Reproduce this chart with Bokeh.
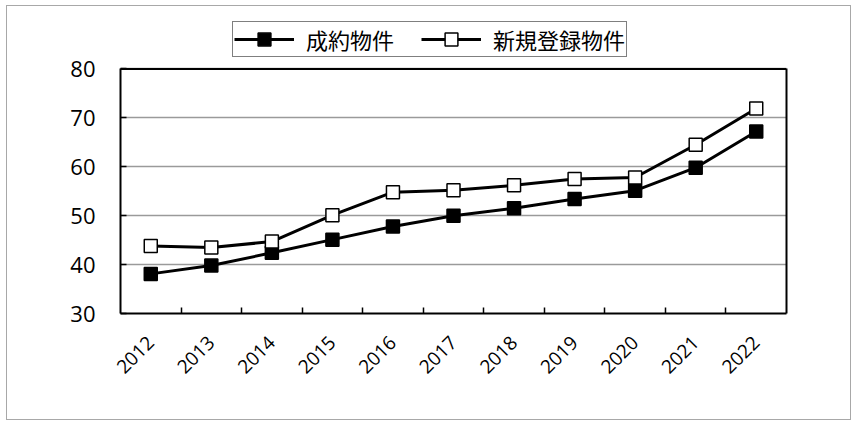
from bokeh.plotting import figure
from bokeh.models import FixedTicker, Legend, LegendItem, LinearAxis, Span
from bokeh.embed import file_html
from bokeh.resources import INLINE

years = ["2012", "2013", "2014", "2015", "2016", "2017", "2018", "2019", "2020", "2021", "2022"]
contracted = [38.1, 39.8, 42.4, 45.1, 47.8, 50.0, 51.5, 53.4, 55.1, 59.8, 67.2]
registered = [43.8, 43.5, 44.7, 50.1, 54.8, 55.2, 56.2, 57.5, 57.8, 64.5, 71.9]
series_names = ["成約物件", "新規登録物件"]
y_ticks = [30, 40, 50, 60, 70, 80]

xs = list(range(len(years)))
y_min, y_max = y_ticks[0], y_ticks[-1]

# layout (pixels): the frame extends above the plot box to leave room for the legend
frame_h = 304
box_h = 243
y_end = y_min + frame_h * (y_max - y_min) / box_h

p = figure(width=845, height=415, output_backend="svg", toolbar_location=None,
           x_range=(-0.5, len(years) - 0.5), y_range=(y_min, y_end),
           min_border_left=113, min_border_top=1, min_border_right=66, min_border_bottom=108)
p.styles = {"border": "1px solid #a8a8a8", "box-sizing": "border-box",
            "margin-left": "6px", "margin-top": "5px"}

p.outline_line_color = None
p.xgrid.grid_line_color = None
p.ygrid.grid_line_color = "#9a9a9a"
p.ygrid.grid_line_width = 1.5

p.xaxis.ticker = FixedTicker(ticks=xs, minor_ticks=[i + 0.5 for i in xs[:-1]])
p.xaxis.major_label_overrides = {i: y for i, y in enumerate(years)}
p.xaxis.major_tick_line_color = None
p.xaxis.minor_tick_in = 6
p.xaxis.minor_tick_out = 0
p.xaxis.minor_tick_line_color = "black"
p.xaxis.minor_tick_line_width = 1.5
p.xaxis.major_label_orientation = 0.785398
p.xaxis.major_label_text_font = "Open Sans"
p.xaxis.major_label_text_font_size = "19px"
p.xaxis.major_label_text_color = "black"
p.xaxis.major_label_standoff = 20
p.xaxis.axis_line_width = 2

p.yaxis.ticker = FixedTicker(ticks=y_ticks)
p.yaxis.bounds = (y_min, y_max)
p.yaxis.major_tick_in = 6
p.yaxis.major_tick_out = 0
p.yaxis.major_tick_line_width = 1.5
p.yaxis.minor_tick_line_color = None
p.yaxis.major_label_text_font = "Open Sans"
p.yaxis.major_label_text_font_size = "22px"
p.yaxis.major_label_text_color = "black"
p.yaxis.major_label_standoff = 25
p.yaxis.axis_line_width = 2

right_axis = LinearAxis(bounds=(y_min, y_max), ticker=FixedTicker(ticks=[]),
                        major_tick_line_color=None, minor_tick_line_color=None,
                        major_label_text_font_size="0px", axis_line_width=2)
p.add_layout(right_axis, "right")
p.add_layout(Span(location=y_max, dimension="width", line_color="black", line_width=2))

l1 = p.line(xs, contracted, line_color="black", line_width=3)
m1 = p.scatter(xs, contracted, marker="square", size=13, fill_color="black", line_color="black", line_width=1.5)
l2 = p.line(xs, registered, line_color="black", line_width=3)
m2 = p.scatter(xs, registered, marker="square", size=13, fill_color="white", line_color="black", line_width=1.5)

legend = Legend(items=[LegendItem(label=series_names[0], renderers=[l1, m1]),
                       LegendItem(label=series_names[1], renderers=[l2, m2])],
                location=(112, 256), orientation="horizontal",
                label_text_font="Noto Sans CJK JP", label_text_font_size="22px",
                label_text_color="black",
                glyph_width=60, glyph_height=32, label_height=20, spacing=27, padding=1, margin=0,
                label_standoff=12,
                border_line_color="black", border_line_width=1.5,
                background_fill_alpha=1)
p.add_layout(legend, "center")

open("out.html", "w").write(file_html(p, INLINE))
